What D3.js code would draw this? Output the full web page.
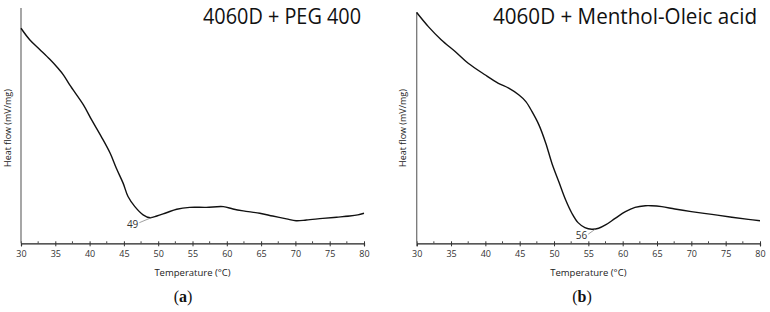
<!DOCTYPE html>
<html>
<head>
<meta charset="utf-8">
<script src="https://cdn.jsdelivr.net/npm/d3@7/dist/d3.min.js"></script>
<style>
  html, body { margin: 0; padding: 0; background: #fff; }
  svg { display: block; }
</style>
</head>
<body>
<svg id="chart" width="770" height="312"></svg>
<script>
// ---- Data (heat flow in arbitrary relative units) ----
const tempA = [30, 31.3, 32.8, 34.2, 35.4, 36.2, 37.1, 39.1, 40.3, 41.7, 43.0, 43.9, 44.9, 45.6, 46.6, 47.8, 48.8, 49.8, 51.2, 52.7, 54.6, 57.0, 59.5, 60.9, 62.4, 64.8, 66.7, 68.7, 70.1, 71.6, 74.0, 76.0, 77.9, 79.1, 80];
const heatA = [91.5, 86.5, 82.3, 78.3, 74.5, 71.6, 67.4, 58.9, 52.5, 45.4, 38.3, 31.9, 25.5, 19.9, 15.6, 12.1, 10.9, 11.6, 13.0, 14.5, 15.3, 15.3, 15.6, 14.6, 13.8, 12.8, 11.6, 10.4, 9.6, 9.9, 10.6, 11.1, 11.6, 12.1, 12.8];
const tempB = [30, 31.7, 33.6, 35.6, 37.5, 40.0, 41.9, 43.4, 44.9, 45.9, 46.8, 47.8, 48.8, 49.7, 50.7, 51.7, 52.6, 53.5, 54.5, 55.5, 56.5, 57.5, 58.9, 60.4, 61.8, 63.3, 64.2, 65.7, 67.6, 70.0, 73.0, 75.9, 78.3, 80];
const heatB = [98.2, 92.2, 86.5, 81.6, 76.6, 71.6, 68.1, 66.0, 63.1, 60.3, 56.0, 50.4, 42.6, 34.0, 26.2, 18.4, 12.8, 8.8, 6.7, 6.0, 6.4, 7.8, 10.6, 13.5, 15.3, 16.0, 16.0, 15.6, 14.6, 13.5, 12.3, 11.1, 10.2, 9.6];
const xTicks = [30, 35, 40, 45, 50, 55, 60, 65, 70, 75, 80];
const minorTicks = [32.5, 37.5, 42.5, 47.5, 52.5, 57.5, 62.5, 67.5, 72.5, 77.5];
const titles = ["4060D + PEG 400", "4060D + Menthol-Oleic acid"];
const captions = ["a", "b"];
const peakTemps = [49, 56];
const peakLabels = ["49", "56"];
const xLabel = "Temperature (°C)";
const yLabel = "Heat flow (mV/mg)";

const svg = d3.select("#chart");

const panels = [
  { temp: tempA, heat: heatA, x0: 21, x1: 364, yTopAxis: 8, title: titles[0], titleW: 158, cap: captions[0],
    peak: peakTemps[0], peakLabel: peakLabels[0], labDx: -20, labDy: 7, ylabX: 8, capX: 183 },
  { temp: tempB, heat: heatB, x0: 416.7, x1: 760, yTopAxis: 12, title: titles[1], titleW: 264, cap: captions[1],
    peak: peakTemps[1], peakLabel: peakLabels[1], labDx: -15, labDy: 7, ylabX: 403, capX: 582 }
];

const yBottom = 243.3, yTop = 8.3;

panels.forEach(p => {
  const x = d3.scaleLinear().domain([30, 80]).range([p.x0, p.x1]);
  const y = d3.scaleLinear().domain([0, 100]).range([yBottom, yTop]);
  const g = svg.append("g");

  // x axis
  const xAxis = d3.axisBottom(x).tickValues(xTicks).tickSize(3).tickPadding(4).tickFormat(d3.format("d"));
  const ax = g.append("g").attr("transform", `translate(0,${yBottom})`).call(xAxis);
  ax.select(".domain").attr("stroke", "#222").attr("stroke-width", 1.2);
  ax.selectAll(".tick line").attr("stroke", "#333").attr("y1", -2).attr("y2", 3);
  ax.selectAll(".tick text").attr("font-family", "'Open Sans', sans-serif").attr("font-size", 9).attr("fill", "#333");
  // minor ticks
  g.append("g").selectAll("line").data(minorTicks).join("line")
    .attr("x1", d => x(d)).attr("x2", d => x(d))
    .attr("y1", yBottom - 2).attr("y2", yBottom)
    .attr("stroke", "#444").attr("stroke-width", 1);

  // y axis line (no ticks)
  g.append("line").attr("x1", p.x0).attr("x2", p.x0).attr("y1", p.yTopAxis).attr("y2", yBottom)
    .attr("stroke", "#777").attr("stroke-width", 1.3);

  // curve
  const line = d3.line().x((d, i) => x(p.temp[i])).y((d, i) => y(p.heat[i])).curve(d3.curveCatmullRom.alpha(0.5));
  g.append("path").datum(p.heat).attr("d", line).attr("fill", "none").attr("stroke", "#111").attr("stroke-width", 1.4);

  // peak annotation
  const idx = d3.minIndex(p.heat.map((h, i) => Math.abs(p.temp[i] - p.peak)));
  const px = x(p.peak), py = y(p.heat[idx]);
  g.append("line").attr("x1", px).attr("y1", py).attr("x2", px + p.labDx + 8).attr("y2", py + 5)
    .attr("stroke", "#777").attr("stroke-width", 0.7);
  g.append("text").attr("x", px + p.labDx + 7).attr("y", py + p.labDy + 3).attr("text-anchor", "end")
    .attr("font-family", "'Open Sans', sans-serif").attr("font-size", 10).attr("fill", "#333").text(p.peakLabel);

  // title
  g.append("text").attr("x", p.x1 - 3).attr("y", 24).attr("text-anchor", "end")
    .attr("font-family", "'Open Sans', sans-serif").attr("font-size", 21.5).attr("fill", "#111")
    .attr("textLength", p.titleW).attr("lengthAdjust", "spacingAndGlyphs").text(p.title);

  // axis labels
  const cx = (p.x0 + p.x1) / 2;
  g.append("text").attr("x", cx).attr("y", 276).attr("text-anchor", "middle")
    .attr("font-family", "'Open Sans', sans-serif").attr("font-size", 9.5).attr("fill", "#222").text(xLabel);
  g.append("text").attr("transform", `translate(${p.ylabX},128) rotate(-90)`).attr("text-anchor", "middle")
    .attr("dy", "0.35em")
    .attr("font-family", "'Open Sans', sans-serif").attr("font-size", 9).attr("fill", "#222").text(yLabel);

  // caption
  const cap = g.append("text").attr("x", p.capX).attr("y", 302).attr("text-anchor", "middle")
    .attr("font-family", "'Liberation Serif', 'DejaVu Serif', serif").attr("font-size", 16).attr("fill", "#111");
  cap.append("tspan").text("(");
  cap.append("tspan").attr("font-weight", "bold").text(p.cap);
  cap.append("tspan").text(")");
});
</script>
</body>
</html>
